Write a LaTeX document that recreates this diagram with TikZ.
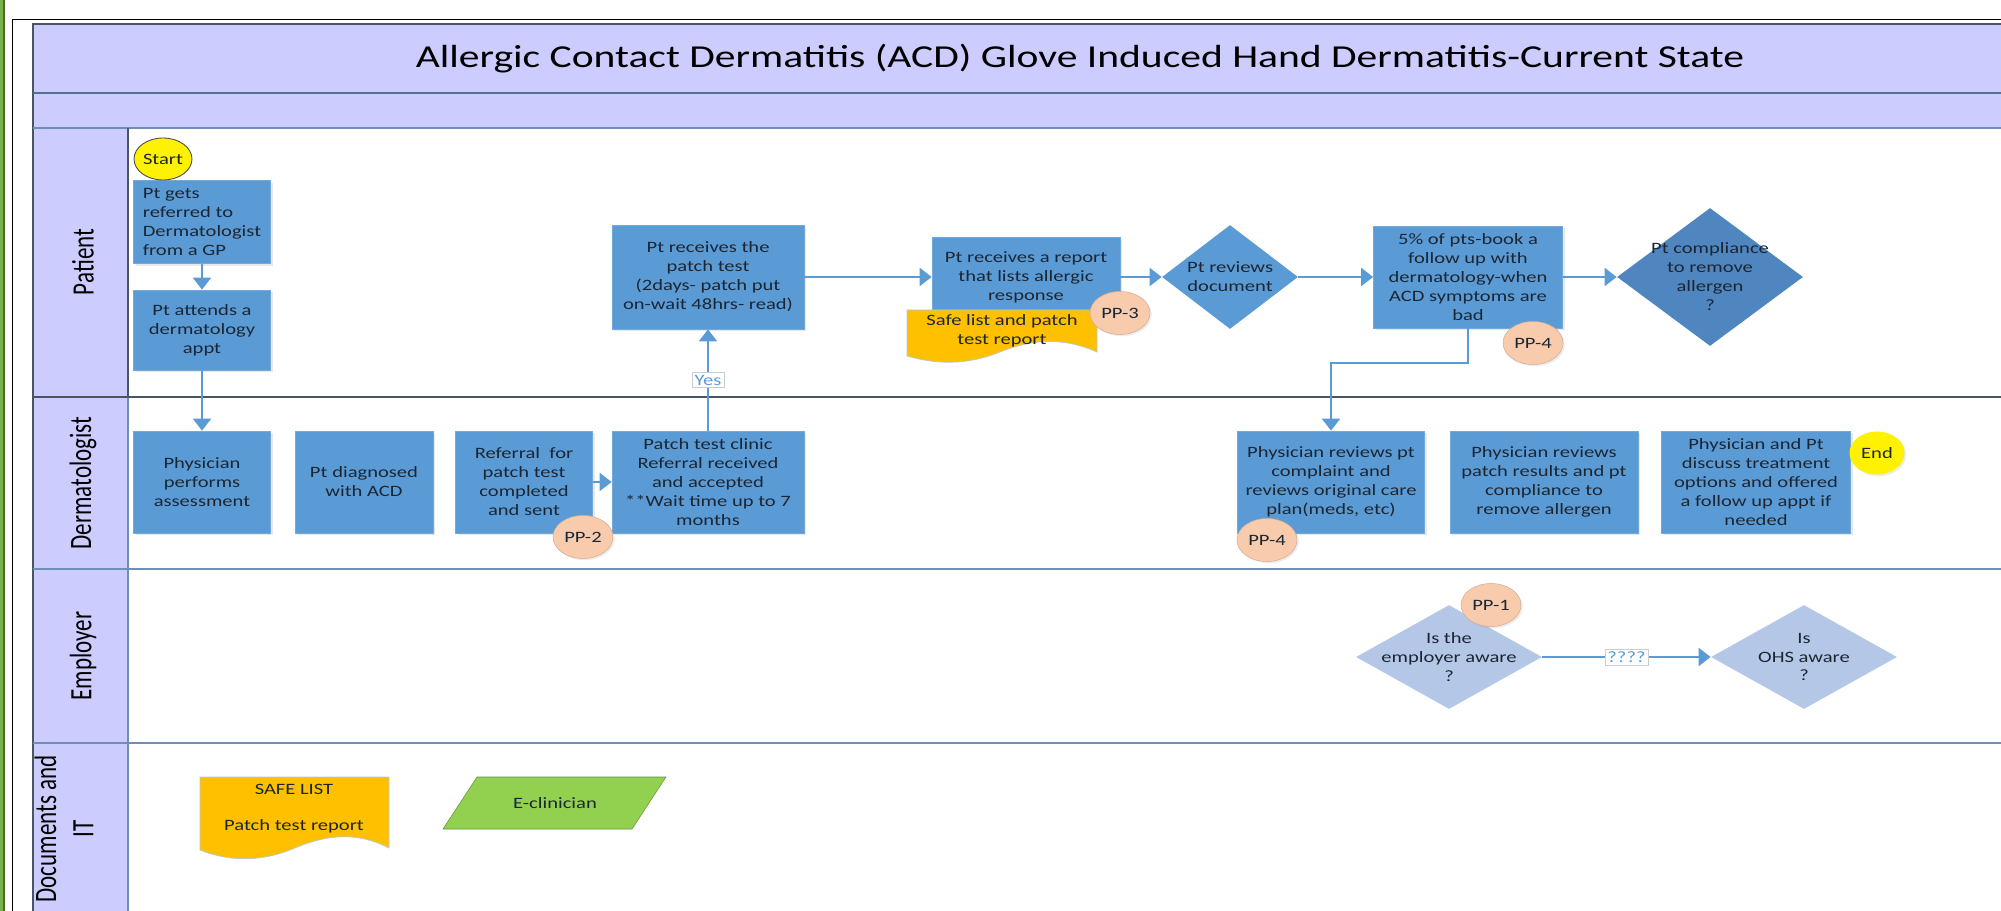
\documentclass[tikz,border=0pt]{standalone}
\usepackage{fontspec}
\setmainfont[FakeStretch=1.3]{Carlito}
\newfontfamily\lanefont{Carlito}
\usetikzlibrary{arrows.meta,calc,positioning,shapes.geometric,shadows}

\definecolor{pool}{HTML}{CCCCFF}
\definecolor{poolline}{HTML}{4A5563}
\definecolor{headline}{HTML}{56708F}
\definecolor{laneline}{HTML}{6F8FB5}
\definecolor{stepblue}{HTML}{5B9BD5}
\definecolor{darkdia}{HTML}{4F86BF}
\definecolor{lightdia}{HTML}{B4C7E7}
\definecolor{ppfill}{HTML}{F8CBAD}
\definecolor{docgold}{HTML}{FFC000}
\definecolor{itgreen}{HTML}{92D050}
\definecolor{bargreen}{HTML}{77B348}
\definecolor{inktext}{HTML}{1C2633}

\newcommand\boxtext{\fontsize{9}{10.8}\selectfont}
\newcommand\titletext{\fontsize{18.2}{22}\selectfont}
\newcommand\lanetext{\lanefont\fontsize{13.1}{15.7}\selectfont}

\begin{document}
\begin{tikzpicture}[x=0.02cm,y=-0.02cm,
  sz/.style 2 args={minimum width=#1*0.02cm,minimum height=#2*0.02cm},
  stepbox/.style={rectangle,fill=stepblue,draw=stepblue!85!white,line width=0.4pt,inner sep=0pt,align=center,font=\boxtext,text=inktext,
    drop shadow={shadow xshift=1.2pt,shadow yshift=-1.2pt,opacity=0.18}},
  ppmark/.style={ellipse,sz={60}{43},inner sep=0pt,fill=ppfill,draw=ppfill!85!black,line width=0.3pt,font=\boxtext,text=inktext,
    drop shadow={shadow xshift=1pt,shadow yshift=-1pt,opacity=0.15}},
  term/.style={ellipse,sz={58}{42},inner sep=0pt,fill=yellow,font=\boxtext,text=inktext},
  dia/.style={diamond,inner sep=0pt},
  dialbl/.style={align=center,font=\boxtext,text=inktext},
  docnote/.style={align=center,font=\boxtext,text=inktext},
  flow/.style={draw=stepblue,line width=1.1pt,-{Triangle[width=0.36cm,length=0.24cm]}},
  tag/.style={fill=white,draw=black!20,line width=0.3pt,inner sep=1.5pt,font=\boxtext,text=stepblue},
  lane/.style={rotate=90,yscale=1.35,font=\lanetext,text=black,align=center}]
  \useasboundingbox (0,0) rectangle (2001,911);
  \clip (0,0) rectangle (2001,911);
  \fill[white] (0,0) rectangle (2001,911);
  \fill[bargreen] (0,0) rectangle (4,911);
  \draw[bargreen!60!black,line width=0.6pt] (4,0) -- (4,911);
  \draw[black,line width=0.7pt] (12.5,915) |- (2010,19.5);

  \fill[pool] (33,24) rectangle (2010,128);
  \fill[pool] (33,128) rectangle (128,915);
  \draw[poolline,line width=1.2pt] (2010,24) -- (33,24) -- (33,915);
  \draw[headline,line width=1pt] (33,93) -- (2010,93);
  \draw[laneline,line width=1pt] (33,128) -- (2010,128);
  \draw[laneline,line width=1.2pt] (33,569) -- (2010,569) (33,743) -- (2010,743) (128,397) -- (128,915);
  \draw[poolline,line width=1.3pt] (128,128) -- (128,397) (33,397) -- (2010,397);
  \node[font=\titletext,text=black] (title) at (1080,59) {Allergic Contact Dermatitis (ACD) Glove Induced Hand Dermatitis-Current State};
  \foreach \n/\y/\c/\lbl in {pat/262/83/Patient, derm/483/83/Dermatologist, emp/656/83/Employer, docs/829/64/{Documents and\\IT}}
    \node[lane] (lane\n) at (\c,\y) {\lbl};

  \node[stepbox,sz={137}{83},align=left] (referred) at (202,222) {Pt gets\\referred to\\Dermatologist\\from a GP};
  \foreach \n/\x/\y/\bw/\bh/\txt in {
    attends/202/330/137/80/{Pt attends a\\dermatology\\appt},
    recpatch/708/277/192/104/{Pt receives the\\patch test\\(2days- patch put\\on-wait 48hrs- read)},
    report/1026/277/188/80/{Pt receives a report\\that lists allergic\\response},
    followup/1468/277/189/102/{5\% of pts-book a\\follow up with\\dermatology-when\\ACD symptoms are\\bad},
    assess/202/482/137/102/{Physician\\performs\\assessment},
    diagnosed/364/482/138/102/{Pt diagnosed\\with ACD},
    referral/524/482/137/102/{Referral~ for\\patch test\\completed\\and sent},
    clinic/708/482/192/102/{Patch test clinic\\Referral received\\and accepted\\**Wait time up to 7\\months},
    complaint/1331/482/187/102/{Physician reviews pt\\complaint and\\reviews original care\\plan(meds, etc)},
    patchres/1544/482/188/102/{Physician reviews\\patch results and pt\\compliance to\\remove allergen},
    discuss/1756/482/189/102/{Physician and Pt\\discuss treatment\\options and offered\\a follow up appt if\\needed}}
    \node[stepbox,sz={\bw}{\bh}] (\n) at (\x,\y) {\txt};

  \fill[docgold,draw=laneline!50,line width=0.4pt] (907,310) -- (1097,310) -- (1097,352) .. controls (1065,338) and (1035,338) .. (1000,352) .. controls (965,366) and (935,364) .. (907,356) -- cycle;
  \node[docnote] (reportdoc) at (1002,331) {Safe list and patch\\test report};
  \fill[docgold,draw=laneline!50,line width=0.4pt] (200,777) -- (389,777) -- (389,848) .. controls (358,832) and (328,834) .. (295,848) .. controls (262,862) and (230,862) .. (200,850) -- cycle;
  \node[docnote] (safelist) at (294,809) {SAFE LIST\\[9.7pt]Patch test report};
  \fill[itgreen,draw=itgreen!70!black,line width=0.3pt] (443,829) -- (477,777) -- (666,777) -- (632,829) -- cycle;
  \node[docnote] (eclin) at (555,803) {E-clinician};

  \node[dia,fill=stepblue,sz={136}{104},label={[dialbl]center:Pt reviews\\document}] (reviews) at (1230,277) {};
  \node[dia,fill=darkdia,sz={186}{138},label={[dialbl]center:Pt compliance\\to remove\\allergen\\?}] (comply) at (1710,277) {};
  \node[dia,fill=lightdia,sz={186}{104},label={[dialbl]center:Is the\\employer aware\\?}] (empaware) at (1449,657) {};
  \node[dia,fill=lightdia,sz={186}{104},label={[dialbl]center:Is\\OHS aware\\?}] (ohsaware) at (1804,657) {};

  \node[term,draw=black!70,line width=0.5pt] (start) at (163,159) {Start};
  \node[term,sz={55}{43},drop shadow={shadow xshift=1pt,shadow yshift=-1pt,opacity=0.15}] (done) at (1877,453) {End};

  \draw[flow] (referred) -- (attends);
  \draw[flow] (attends) -- (assess);
  \draw[flow] (referral) -- (clinic);
  \draw[flow] (clinic) -- node[tag] (yes) {Yes} (recpatch);
  \draw[flow] (recpatch) -- (report);
  \draw[flow] (report) -- (reviews);
  \draw[flow] (reviews) -- (followup);
  \draw[flow] (followup) -- (comply);
  \draw[flow] (followup.south) -- ++(0,35) -| (complaint.north);
  \draw[flow] (empaware) -- node[tag] (unsure) {????} (ohsaware);

  \foreach \n/\x/\y/\txt in {pp1/1491/605/PP-1, pp2/583/537/PP-2, pp3/1120/313/PP-3, pp4a/1533/343/PP-4, pp4b/1267/540/PP-4}
    \node[ppmark] (\n) at (\x,\y) {\txt};
\end{tikzpicture}
\end{document}
